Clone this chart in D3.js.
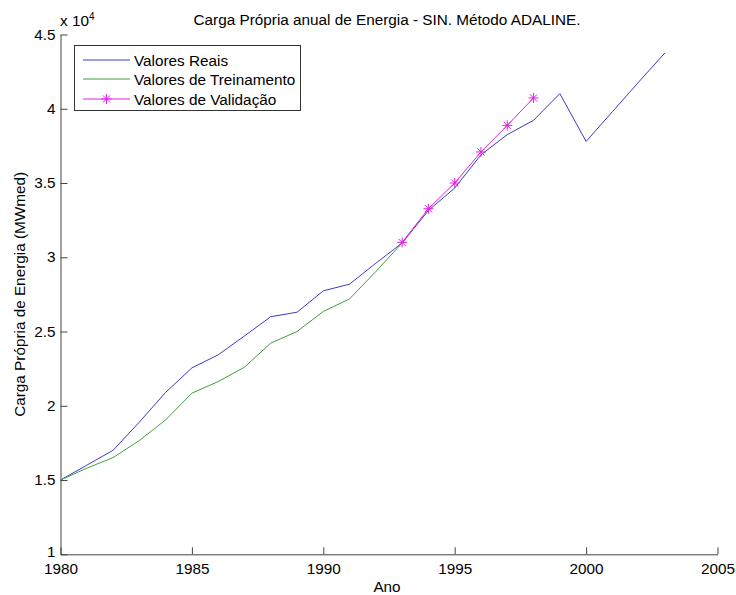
<!DOCTYPE html>
<html><head><meta charset="utf-8">
<script src="https://cdn.jsdelivr.net/npm/d3@7"></script>
<style>body{margin:0;background:#fff}svg{display:block}text{font-family:"Liberation Sans",Arial,sans-serif;fill:#000}</style>
</head><body><div id="chart"></div>
<script>
// Data (values x 10^4 MWmed)
const yearsReal = [1980,1981,1982,1983,1984,1985,1986,1987,1988,1989,1990,1991,1992,1993,1994,1995,1996,1997,1998,1999,2000,2001,2002,2003];
const valoresReais = [1.50,1.60,1.70,1.89,2.09,2.255,2.343,2.47,2.60,2.63,2.774,2.819,2.96,3.096,3.315,3.466,3.69,3.826,3.922,4.102,3.78,3.98,4.18,4.376];
const yearsTrain = [1980,1981,1982,1983,1984,1985,1986,1987,1988,1989,1990,1991,1992,1993];
const valoresTreinamento = [1.50,1.58,1.651,1.766,1.905,2.085,2.163,2.26,2.422,2.50,2.635,2.72,2.904,3.096];
const yearsVal = [1993,1994,1995,1996,1997,1998];
const valoresValidacao = [3.10,3.327,3.50,3.709,3.888,4.073];
const xTicks = [1980,1985,1990,1995,2000,2005];
const yTicks = [1,1.5,2,2.5,3,3.5,4,4.5];
const legendLabels = ["Valores Reais","Valores de Treinamento","Valores de Validação"];
const colors = ["#3c3cc4","#3f9f3f","#e020e0"];

const W = 736, H = 595, FS = 15.3;
const svg = d3.select("#chart").append("svg").attr("width",W).attr("height",H);
const x = d3.scaleLinear().domain([1980,2005]).range([60.5,717.5]);
const y = d3.scaleLinear().domain([1,4.5]).range([554.3,34.5]);

const axisColor = "#444";
const gx = svg.append("g").attr("transform",`translate(0,${y(1)})`)
  .call(d3.axisBottom(x).tickValues(xTicks).tickFormat(d3.format("d")).tickSizeInner(-7).tickSizeOuter(0));
const gy = svg.append("g").attr("transform",`translate(${x(1980)},0)`)
  .call(d3.axisLeft(y).tickValues(yTicks).tickFormat(d=>String(d)).tickSizeInner(-7).tickSizeOuter(0).tickPadding(5));
[gx,gy].forEach(g=>{
  g.select(".domain").attr("stroke",axisColor);
  g.selectAll(".tick line").attr("stroke",axisColor);
  g.selectAll(".tick text").attr("font-size",FS).attr("fill","#000").style("font-family",'"Liberation Sans",Arial,sans-serif');
});
gx.selectAll(".tick text").attr("y",20).attr("dy","0");
gy.selectAll(".tick text").attr("dy",d=>d===1?"0.15em":"0.3em");

const line = d3.line().x(d=>x(d[0])).y(d=>y(d[1]));
const series = [
  {yrs:yearsReal, vals:valoresReais, c:colors[0]},
  {yrs:yearsTrain, vals:valoresTreinamento, c:colors[1]},
  {yrs:yearsVal, vals:valoresValidacao, c:colors[2]}
];
series.forEach(s=>{
  svg.append("path").datum(s.yrs.map((yr,i)=>[yr,s.vals[i]]))
    .attr("d",line).attr("fill","none").attr("stroke",s.c).attr("stroke-width",1);
});
function star(g,cx,cy,c){
  const r=5, r2=3.6;
  g.append("line").attr("x1",cx-r).attr("x2",cx+r).attr("y1",cy).attr("y2",cy).attr("stroke",c);
  g.append("line").attr("x1",cx).attr("x2",cx).attr("y1",cy-r).attr("y2",cy+r).attr("stroke",c);
  g.append("line").attr("x1",cx-r2).attr("x2",cx+r2).attr("y1",cy-r2).attr("y2",cy+r2).attr("stroke",c);
  g.append("line").attr("x1",cx-r2).attr("x2",cx+r2).attr("y1",cy+r2).attr("y2",cy-r2).attr("stroke",c);
}
const mk = svg.append("g");
yearsVal.forEach((yr,i)=>star(mk,x(yr),y(valoresValidacao[i]),colors[2]));

// Title and labels
svg.append("text").attr("x",387).attr("y",25).attr("text-anchor","middle").attr("font-size",FS)
  .text("Carga Própria anual de Energia - SIN. Método ADALINE.");
const ex = svg.append("text").attr("x",60).attr("y",26).attr("font-size",FS);
ex.append("tspan").text("x 10");
ex.append("tspan").attr("font-size",10).attr("dy",-6).text("4");
svg.append("text").attr("x",387).attr("y",592).attr("text-anchor","middle").attr("font-size",FS).text("Ano");
svg.append("text").attr("transform",`translate(25,${(y(1)+y(4.5))/2}) rotate(-90)`).attr("text-anchor","middle").attr("font-size",FS)
  .text("Carga Própria de Energia (MWmed)");

// Legend
const lg = svg.append("g");
lg.append("rect").attr("x",74.5).attr("y",45.5).attr("width",226).attr("height",65).attr("fill","#fff").attr("stroke","#333");
const rowsY = [60,79,99];
legendLabels.forEach((t,i)=>{
  lg.append("line").attr("x1",83).attr("x2",130).attr("y1",rowsY[i]).attr("y2",rowsY[i]).attr("stroke",colors[i]);
  if(i===2) star(lg,106.5,rowsY[i],colors[i]);
  lg.append("text").attr("x",134).attr("y",rowsY[i]+5.5).attr("font-size",FS).text(t);
});
</script></body></html>
